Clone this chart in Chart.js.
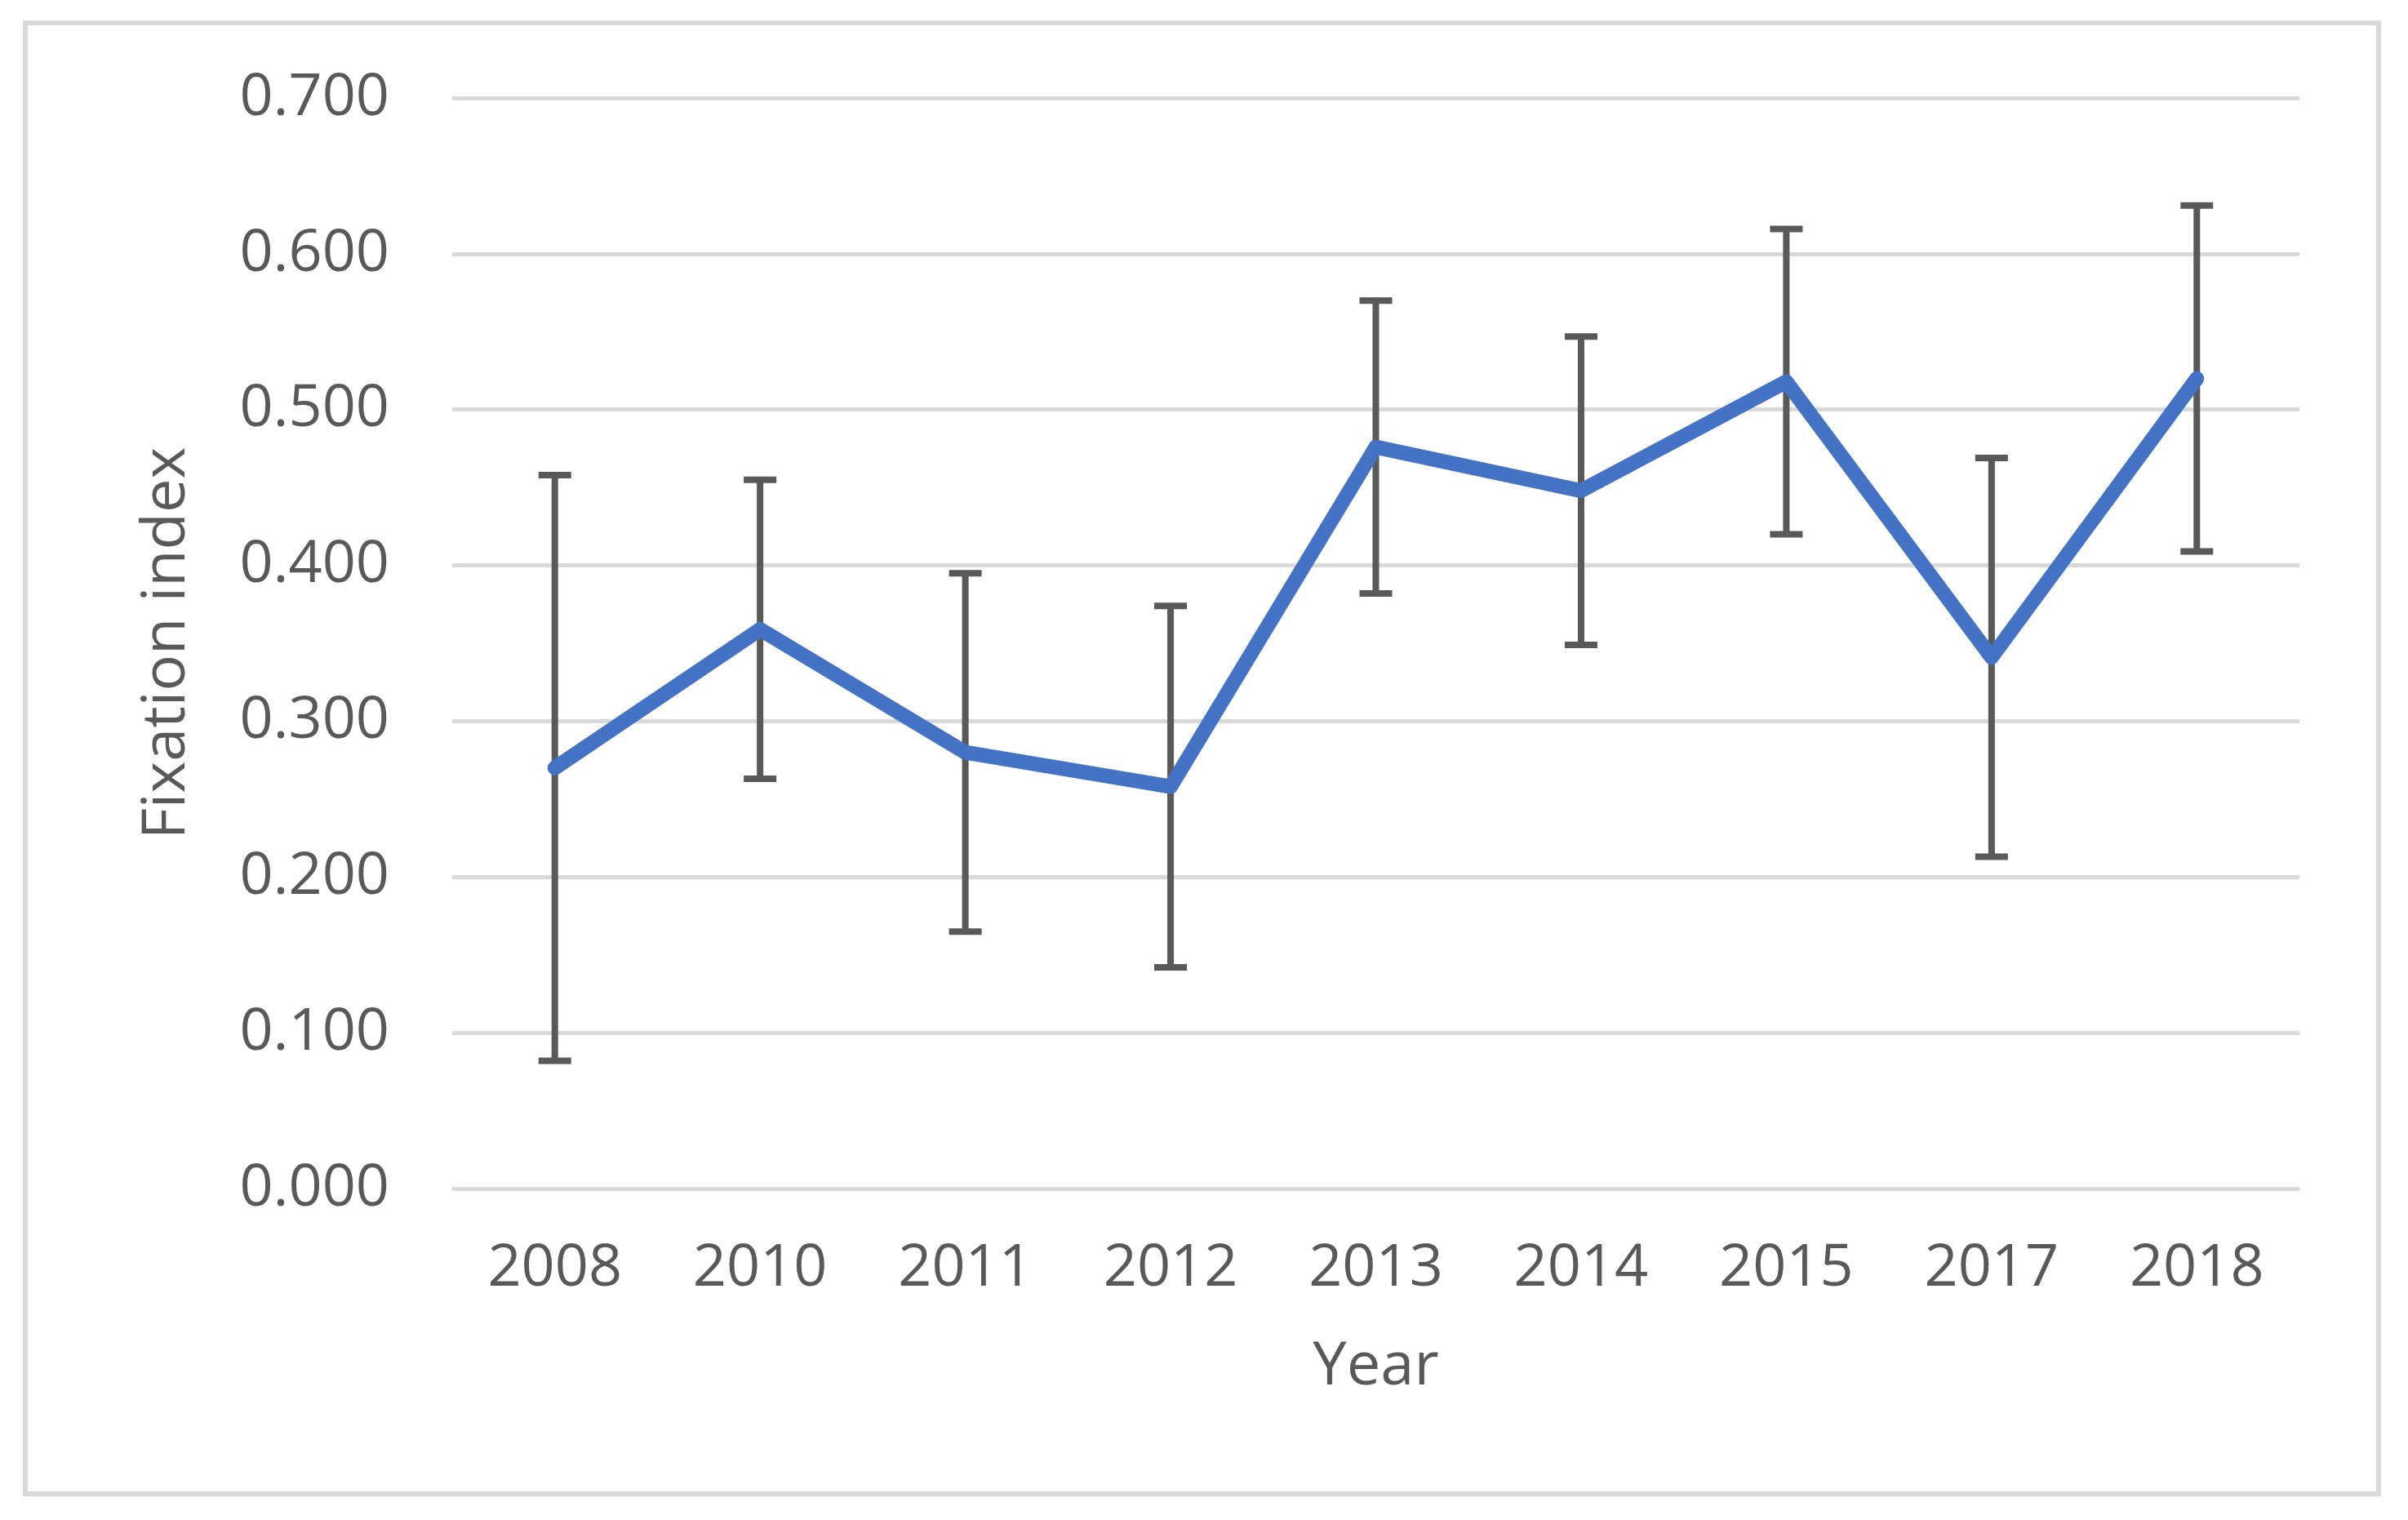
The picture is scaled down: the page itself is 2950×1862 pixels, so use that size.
<!DOCTYPE html>
<html>
<head>
<meta charset="utf-8">
<script src="https://cdn.jsdelivr.net/npm/chart.js@4/dist/chart.umd.min.js"></script>
<style>
  html, body { margin: 0; padding: 0; background: #ffffff; }
  #wrap { position: absolute; left: 0; top: 0; width: 2950px; height: 1862px; }
</style>
</head>
<body>
<div id="wrap"><canvas id="c" width="2950" height="1862"></canvas></div>
<script>
// ---- data ----
const years = ['2008', '2010', '2011', '2012', '2013', '2014', '2015', '2017', '2018'];
const fixationIndex = [0.270, 0.359, 0.280, 0.258, 0.476, 0.448, 0.518, 0.341, 0.520];
const errorValues = [0.188, 0.096, 0.115, 0.116, 0.094, 0.099, 0.098, 0.128, 0.111];
const yTickValues = [0, 0.1, 0.2, 0.3, 0.4, 0.5, 0.6, 0.7];
const xTitle = 'Year';
const yTitle = 'Fixation index';

const TEXT = '#595959';
const FONT = '"Open Sans", "Noto Sans", sans-serif';

const frame = {
  id: 'frame',
  beforeDraw(chart) {
    const ctx = chart.ctx;
    ctx.save();
    ctx.fillStyle = '#ffffff';
    ctx.fillRect(0, 0, chart.width, chart.height);
    ctx.strokeStyle = '#d9d9d9';
    ctx.lineWidth = 6;
    ctx.strokeRect(31, 28, 2883, 1802);
    ctx.restore();
  }
};

const errorBars = {
  id: 'errorBars',
  beforeDatasetsDraw(chart) {
    const ctx = chart.ctx;
    const xs = chart.scales.x, ys = chart.scales.y;
    ctx.save();
    ctx.strokeStyle = '#595959';
    ctx.lineWidth = 8;
    ctx.lineCap = 'butt';
    fixationIndex.forEach((v, i) => {
      const x = xs.getPixelForValue(i);
      const yt = ys.getPixelForValue(v + errorValues[i]);
      const yb = ys.getPixelForValue(v - errorValues[i]);
      ctx.beginPath();
      ctx.moveTo(x, yt); ctx.lineTo(x, yb);
      ctx.moveTo(x - 20, yt); ctx.lineTo(x + 20, yt);
      ctx.moveTo(x - 20, yb); ctx.lineTo(x + 20, yb);
      ctx.stroke();
    });
    ctx.restore();
  }
};

new Chart(document.getElementById('c'), {
  type: 'line',
  data: {
    labels: years,
    datasets: [{
      label: yTitle,
      data: fixationIndex,
      borderColor: '#4472C4',
      backgroundColor: '#4472C4',
      borderWidth: 18,
      borderJoinStyle: 'round',
      borderCapStyle: 'round',
      pointRadius: 0,
      tension: 0,
      fill: false
    }]
  },
  options: {
    responsive: false,
    animation: false,
    devicePixelRatio: 1,
    layout: { padding: { left: 0, right: 133, top: 116, bottom: 0 } },
    plugins: { legend: { display: false }, tooltip: { enabled: false } },
    scales: {
      x: {
        offset: true,
        grid: { display: false, drawTicks: false },
        border: { display: false },
        ticks: { color: TEXT, font: { family: FONT, size: 72 }, padding: 55, maxRotation: 0 },
        title: { display: true, text: xTitle, color: TEXT, font: { family: FONT, size: 74 }, padding: { top: 0, bottom: 143 } },
        afterFit(s) { s.height = 406; }
      },
      y: {
        min: 0, max: 0.7,
        afterBuildTicks(s) { s.ticks = yTickValues.map(v => ({ value: v })); },
        grid: { color: '#d9d9d9', lineWidth: 5, drawTicks: false },
        border: { display: false },
        ticks: { color: TEXT, font: { family: FONT, size: 72 }, padding: 77, callback: v => Number(v).toFixed(3) },
        title: { display: true, text: yTitle, color: TEXT, font: { family: FONT, size: 74 }, padding: { top: 161, bottom: 0 } },
        afterFit(s) { s.width = 554; }
      }
    }
  },
  plugins: [frame, errorBars]
});
</script>
</body>
</html>
